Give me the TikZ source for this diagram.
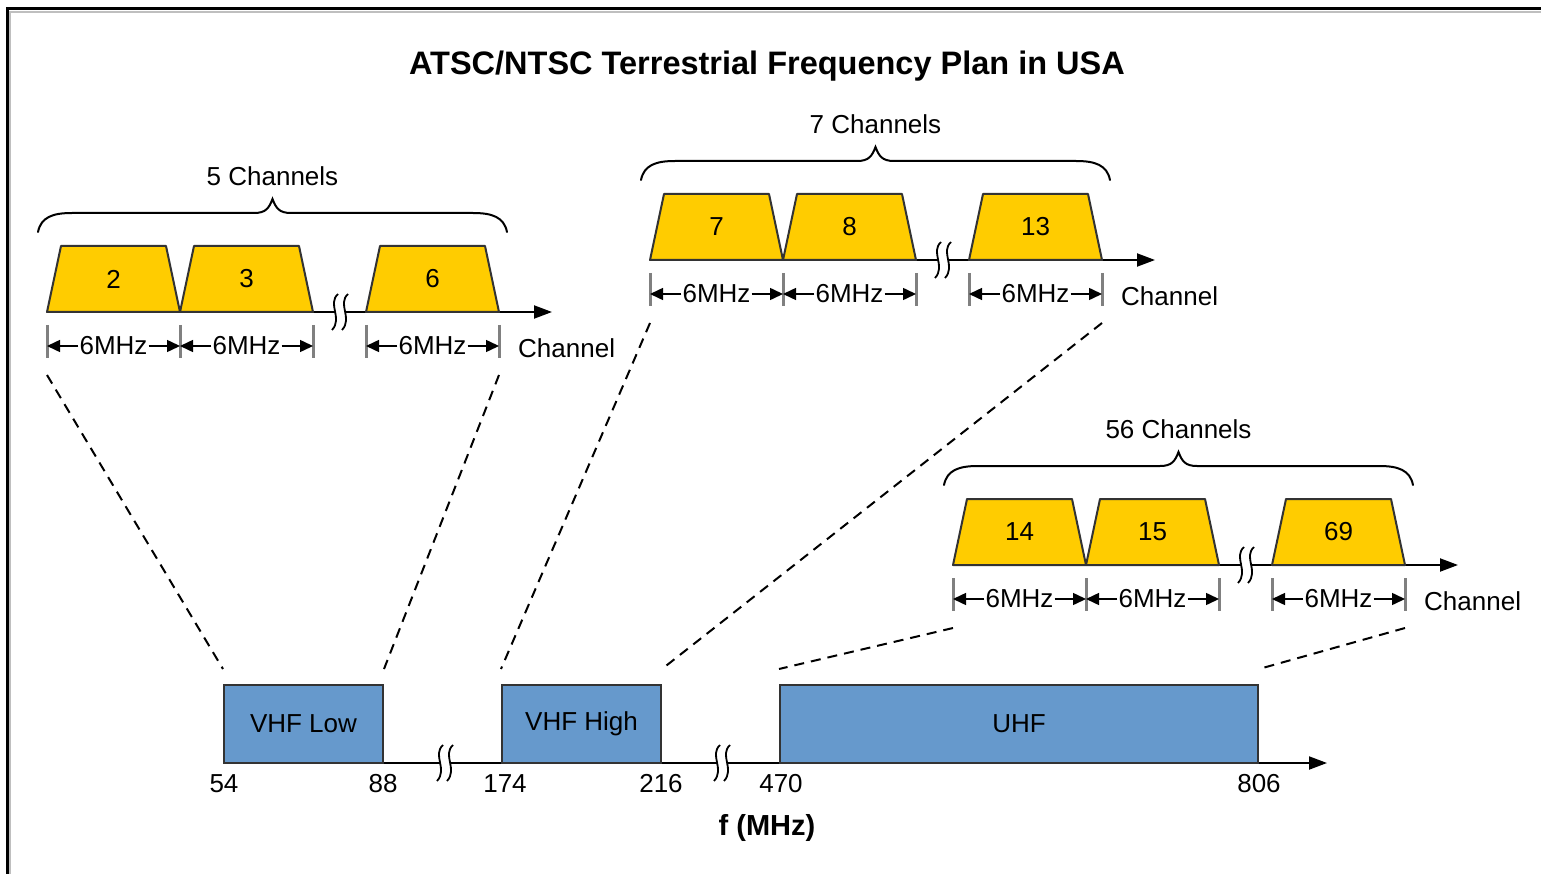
\documentclass[tikz,border=0pt]{standalone}
\usepackage{fontspec}
\setmainfont{Liberation Sans}
\usetikzlibrary{arrows.meta}
\definecolor{chanyellow}{HTML}{FFCC00}
\definecolor{bandblue}{HTML}{6699CC}
\definecolor{tickgray}{HTML}{808080}
\tikzset{
  axisbreak/.pic={
    \fill[white] (-5,-3) rectangle (5,3);
    \draw[line width=1.8pt] (-2,-18) .. controls (-13,-8) and (3,6) .. (-8,18);
    \draw[line width=1.8pt] (8,-18) .. controls (-3,-8) and (13,6) .. (2,18);
  }
}

\begin{document}
\begin{tikzpicture}[x=1pt,y=-1pt,
    lbl/.style={font=\fontsize{26}{28}\selectfont, inner sep=1pt},
    chan/.style={draw=black!80, line width=2pt, fill=chanyellow, line join=round},
    band/.style={draw=black!80, line width=2pt, fill=bandblue, minimum height=78pt,
      inner sep=0pt, font=\fontsize{26}{28}\selectfont},
    mhztick/.style={draw=tickgray, line width=3pt},
    dimarrow/.style={line width=1.5pt, -{Triangle[length=13pt,width=12pt]}},
    freqaxis/.style={line width=2pt, -{Triangle[length=18pt,width=13pt]}},
    dashline/.style={line width=2pt, dash pattern=on 10pt off 7pt}
  ]
    \useasboundingbox (0,0) rectangle (1541,874);

    % Frame
    \draw[line width=3pt] (7,874) -- (7,9) -- (1541,9);
    \draw[gray!50, line width=1.5pt] (9.8,874) -- (9.8,11.8) -- (1541,11.8);

    % Title
    \node[font=\bfseries\fontsize{32.5}{35}\selectfont] (title) at (767,66)
      {ATSC/NTSC Terrestrial Frequency Plan in USA};

    % Channel groups
    \foreach \gx/\gy/\ca/\cb/\cc/\txt/\grp in
        {47/312/2/3/6/5 Channels/lo, 650/260/7/8/13/7 Channels/hi,
         953/565/14/15/69/56 Channels/uh}{
      % channel axis
      \coordinate (\grp-s) at (\gx,\gy);
      \coordinate (\grp-e) at (\gx+505,\gy);
      \draw[freqaxis] (\grp-s) -- (\grp-e);
      \pic at (\gx+293,\gy) {axisbreak};
      % channels
      \foreach \dx/\n/\k in {0/\ca/1, 133/\cb/2, 319/\cc/3}{
        \draw[chan] (\gx+\dx,\gy) -- ++(14,-66) -- ++(105,0) -- ++(14,66) -- cycle;
        \node[lbl] (\grp-c\k) at (\gx+\dx+66.5,\gy-33) {\n};
      }
      % 6MHz marks
      \foreach \dx/\i in {0/0, 133/1, 266/2, 319/3, 452/4}{
        \draw[mhztick] (\gx+\dx,\gy+13) -- (\gx+\dx,\gy+46);
        \coordinate (\grp-a\i) at (\gx+\dx,\gy+34);
      }
      \foreach \dx/\k/\l/\r in {0/1/0/1, 133/2/1/2, 319/3/3/4}{
        \node[lbl] (\grp-m\k) at (\gx+\dx+66.5,\gy+34) {6MHz};
        \draw[dimarrow] (\grp-m\k.west) -- (\grp-a\l);
        \draw[dimarrow] (\grp-m\k.east) -- (\grp-a\r);
      }
      \node[lbl, anchor=west] (\grp-ch) at (\gx+470,\gy+36) {Channel};
      % brace
      \draw[line width=2pt, line cap=round]
        (\gx-9,\gy-80) .. controls (\gx-6,\gy-95) and (\gx+6,\gy-99) .. (\gx+25,\gy-99)
        -- (\gx+207,\gy-99) .. controls (\gx+219,\gy-99) and (\gx+222,\gy-104) .. (\gx+225.5,\gy-113)
        .. controls (\gx+229,\gy-104) and (\gx+232,\gy-99) .. (\gx+244,\gy-99)
        -- (\gx+426,\gy-99) .. controls (\gx+445,\gy-99) and (\gx+457,\gy-95) .. (\gx+460,\gy-80);
      \node[lbl] (\grp-br) at (\gx+225.5,\gy-136) {\txt};
      % dashed start points
      \coordinate (\grp-d0) at (\gx,\gy+63);
      \coordinate (\grp-d4) at (\gx+452,\gy+63);
    }

    % Frequency axis
    \coordinate (fstart) at (224,763);
    \coordinate (fend) at (1327,763);
    \draw[freqaxis] (fstart) -- (fend);
    \pic at (445,763) {axisbreak};
    \pic at (722,763) {axisbreak};

    % Bands
    \node[band, minimum width=159pt] (vlow) at (303.5,724) {VHF Low};
    \node[band, minimum width=159pt] (vhigh) at (581.5,724) {VHF High};
    \node[band, minimum width=478pt] (uhf) at (1019,724) {UHF};

    % Band edges
    \node[lbl] (f54) at (224,784) {54};
    \node[lbl] (f88) at (383,784) {88};
    \node[lbl] (f174) at (505,784) {174};
    \node[lbl] (f216) at (661,784) {216};
    \node[lbl] (f470) at (781,784) {470};
    \node[lbl] (f806) at (1259,784) {806};
    \node[font=\bfseries\fontsize{29}{31}\selectfont] (funit) at (767,828) {f (MHz)};

    % Zoom lines
    \draw[dashline] (lo-d0) -- ([yshift=15pt]vlow.north west);
    \draw[dashline] (lo-d4) -- ([yshift=15pt]vlow.north east);
    \draw[dashline] (hi-d0) -- ([yshift=15pt]vhigh.north west);
    \draw[dashline] (hi-d4) -- ([yshift=15pt]vhigh.north east);
    \draw[dashline] (uh-d0) -- ([yshift=15pt]uhf.north west);
    \draw[dashline] (uh-d4) -- ([yshift=15pt]uhf.north east);
\end{tikzpicture}
\end{document}
